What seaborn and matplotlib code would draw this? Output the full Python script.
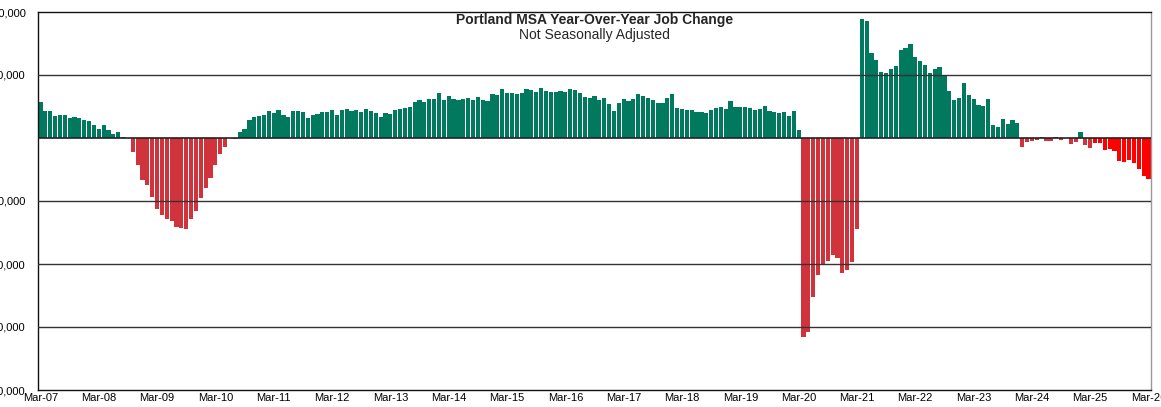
import matplotlib
matplotlib.use("Agg")
import matplotlib.pyplot as plt
import numpy as np
import pandas as pd
import seaborn as sns
from matplotlib.ticker import FuncFormatter

# Year-over-year job change, thousands, monthly Mar-07 .. Mar-26
CHANGE_K = [
    # 2007-2010 (Mar-07 ..)
    28.5, 21.6, 21.6, 17.7, 18.5, 18.5, 15.6, 16.4, 15.6, 14.5, 13.7, 10.6,
    7.4, 10.6, 6.6, 2.9, 5.0, 1.1, 0.2, -11.1, -21.6, -33.0, -37.2, -47.0,
    -56.2, -61.2, -63.9, -66.0, -70.8, -71.5, -72.3, -63.9, -57.8, -47.8, -39.3, -31.4,
    -21.6, -12.4, -6.9, -0.2, -0.8, 5.0, 7.4, 14.1, 16.5, 17.8, 18.6, 21.3,
    # Mar-11 ..
    19.9, 22.0, 18.6, 17.0, 21.3, 21.3, 20.5, 15.7, 18.6, 19.4, 20.7, 20.7,
    22.0, 18.6, 22.6, 23.4, 21.3, 22.6, 20.7, 23.4, 21.8, 19.9, 17.0, 19.9,
    19.1, 22.6, 23.4, 24.2, 24.7, 28.4, 30.5, 28.4, 31.3, 31.3, 36.0, 30.5,
    33.7, 31.3, 30.5, 31.3, 32.1, 30.5, 32.9, 30.5, 29.7, 35.0, 34.2, 38.9,
    # Mar-15 ..
    36.0, 36.0, 34.7, 35.5, 38.9, 38.1, 36.3, 39.7, 37.6, 36.8, 36.3, 37.6,
    36.8, 38.9, 38.1, 35.8, 32.9, 32.1, 33.4, 30.5, 31.8, 27.1, 21.3, 27.6,
    31.0, 29.7, 31.0, 34.7, 33.4, 31.8, 30.5, 27.6, 27.6, 31.8, 34.7, 24.2,
    23.1, 22.0, 22.0, 20.7, 20.7, 19.9, 22.0, 23.9, 24.9, 23.4, 29.7, 24.9,
    24.9, 24.9, 24.2, 22.0, 23.1, 25.7, 21.3, 20.7, 19.9, 20.7, 17.8, 21.3,
    # Mar-20 ..
    6.7, -158.3, -153.8, -125.8, -108.9, -100.2, -97.5, -92.8, -94.9, -106.8, -104.7, -98.3,
    -72.5, 94.6, 92.8, 67.5, 62.2, 52.7, 51.9, 54.5, 57.4, 70.1, 71.4, 74.6,
    64.5, 60.9, 58.2, 51.6, 54.5, 56.6, 50.0, 37.1, 30.5, 32.1, 43.4, 34.2,
    30.8, 26.3, 25.7, 30.8, 10.7, 8.6, 15.2, 11.5, 14.4, 12.3, -7.3, -3.3,
    # Mar-24 ..
    -2.5, -1.7, 0.4, -2.5, -2.5, 0.5, -1.7, -0.3, -4.6, -3.3, 4.4, -5.2,
    -8.1, -3.8, -3.8, -9.6, -9.1, -10.4, -18.1, -19.4, -17.6, -19.9, -24.4, -30.0,
    -32.9,
]
YEAR_LABELS = [f"Mar-{y:02d}" for y in range(7, 27)]
BRIGHT_FROM = 217   # later months drawn in brighter red

GREEN = "#00795F"
RED = "#D1333D"
BRIGHT_RED = "#FF0000"

values = np.array(CHANGE_K) * 1000
pos = np.arange(len(values))
kind = np.where(values >= 0, "up", np.where(pos >= BRIGHT_FROM, "down_new", "down"))
df = pd.DataFrame({"pos": pos, "value": values, "kind": kind})

sns.set_style("white")
plt.rcParams["font.family"] = ["Liberation Sans", "DejaVu Sans"]

fig = plt.figure(figsize=(11.61, 4.07), dpi=100)
ax = fig.add_axes([38 / 1161, 17 / 407, 1113 / 1161, 378 / 407])

sns.barplot(
    data=df, x="pos", y="value", hue="kind", native_scale=True, dodge=False,
    palette={"up": GREEN, "down": RED, "down_new": BRIGHT_RED}, saturation=1,
    width=0.86, errorbar=None, legend=False, ax=ax, linewidth=0, zorder=2,
)

for yv in [50000, -50000, -100000, -150000]:
    ax.axhline(yv, color="#333333", lw=1.0, zorder=3)
ax.axhline(0, color="#222222", lw=1.2, zorder=3)


def fmt_y(v, _):
    # zero is left unlabeled on the original
    return "" if v == 0 else f"{int(v):,}"


ax.set_xlim(-0.5, len(values) - 0.5)
ax.set_ylim(-200000, 100000)
ax.set_yticks(np.arange(-200000, 100001, 50000))
ax.yaxis.set_major_formatter(FuncFormatter(fmt_y))
ax.set_xticks(np.arange(0, len(values), 12))
ax.set_xticklabels(YEAR_LABELS[: len(np.arange(0, len(values), 12))])
ax.tick_params(axis="both", length=0, labelsize=8, colors="#000000")
ax.tick_params(axis="y", pad=9)
ax.tick_params(axis="x", pad=2)
ax.set_xlabel("")
ax.set_ylabel("")

for side in ["left", "bottom", "top"]:
    ax.spines[side].set_color("#111111")
    ax.spines[side].set_linewidth(1.0)
ax.spines["right"].set_color("#999999")
ax.spines["right"].set_linewidth(1.0)

ax.text(0.5, 0.980, "Portland MSA Year-Over-Year Job Change", transform=ax.transAxes,
        ha="center", va="center", fontsize=10, fontweight="bold")
ax.text(0.5, 0.938, "Not Seasonally Adjusted", transform=ax.transAxes,
        ha="center", va="center", fontsize=10)

fig.savefig("out.png", dpi=100)
